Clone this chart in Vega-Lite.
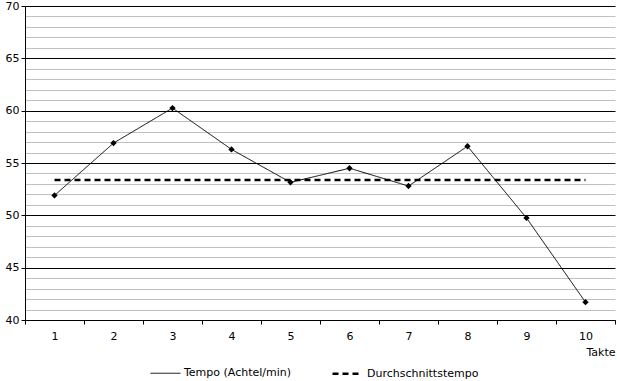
{
  "$schema": "https://vega.github.io/schema/vega-lite/v6.json",
  "autosize": {"type": "none"},
  "padding": {"left": 25, "top": 6, "right": 2, "bottom": 61},
  "width": 590,
  "height": 314,
  "background": "white",
  "config": {
    "view": {"stroke": null},
    "font": "DejaVu Sans",
    "axis": {"labelFont": "DejaVu Sans", "labelFontSize": 11, "labelColor": "black", "titleFont": "DejaVu Sans", "titleFontSize": 11, "titleFontWeight": "normal", "titleColor": "black", "domainColor": "black", "tickColor": "black"},
    "legend": {"labelFont": "DejaVu Sans", "labelFontSize": 11, "labelColor": "black"}
  },
  "data": {
    "values": [
      {"takt": 1, "tempo": 51.9, "series": "Tempo (Achtel/min)"},
      {"takt": 2, "tempo": 56.9, "series": "Tempo (Achtel/min)"},
      {"takt": 3, "tempo": 60.25, "series": "Tempo (Achtel/min)"},
      {"takt": 4, "tempo": 56.3, "series": "Tempo (Achtel/min)"},
      {"takt": 5, "tempo": 53.15, "series": "Tempo (Achtel/min)"},
      {"takt": 6, "tempo": 54.5, "series": "Tempo (Achtel/min)"},
      {"takt": 7, "tempo": 52.8, "series": "Tempo (Achtel/min)"},
      {"takt": 8, "tempo": 56.6, "series": "Tempo (Achtel/min)"},
      {"takt": 9, "tempo": 49.75, "series": "Tempo (Achtel/min)"},
      {"takt": 10, "tempo": 41.7, "series": "Tempo (Achtel/min)"},
      {"takt": 1, "tempo": 53.38, "series": "Durchschnittstempo"},
      {"takt": 10, "tempo": 53.38, "series": "Durchschnittstempo"}
    ]
  },
  "encoding": {
    "x": {
      "field": "takt", "type": "ordinal", "bandPosition": 0.5,
      "scale": {"type": "band", "paddingInner": 0, "paddingOuter": 0},
      "axis": {"labelAngle": 0, "tickBand": "extent", "tickSize": 4, "labelPadding": 6, "title": "Takte", "titleAnchor": "end", "titleAlign": "right", "titlePadding": 5, "grid": false}
    },
    "y": {
      "field": "tempo", "type": "quantitative",
      "scale": {"domain": [40, 70], "nice": false, "zero": false},
      "axis": {
        "title": null,
        "values": [40,41,42,43,44,45,46,47,48,49,50,51,52,53,54,55,56,57,58,59,60,61,62,63,64,65,66,67,68,69,70],
        "labelExpr": "datum.value % 5 === 0 ? datum.label : ''",
        "grid": true,
        "gridColor": {"condition": {"test": "datum.value % 5 === 0", "value": "black"}, "value": "#c0c0c0"},
        "gridWidth": 1,
        "tickSize": 4,
        "tickOpacity": {"condition": {"test": "datum.value % 5 === 0", "value": 1}, "value": 0},
        "labelPadding": 2
      }
    }
  },
  "layer": [
    {
      "mark": {"type": "line", "color": "black"},
      "encoding": {
        "strokeDash": {
          "field": "series", "type": "nominal",
          "scale": {"domain": ["Tempo (Achtel/min)", "Durchschnittstempo"], "range": [[1, 0], [6, 4]]},
          "legend": {"title": null, "orient": "none", "legendX": 125, "legendY": 351, "direction": "horizontal", "symbolType": "stroke", "symbolSize": 900, "symbolStrokeColor": "black", "columnPadding": 35, "labelOffset": 3}
        },
        "strokeWidth": {
          "field": "series", "type": "nominal",
          "scale": {"domain": ["Tempo (Achtel/min)", "Durchschnittstempo"], "range": [1, 2.5]},
          "legend": null
        }
      }
    },
    {
      "transform": [{"filter": "datum.series === 'Tempo (Achtel/min)'"}],
      "mark": {"type": "point", "shape": "diamond", "filled": true, "color": "black", "size": 40, "opacity": 1}
    }
  ]
}
